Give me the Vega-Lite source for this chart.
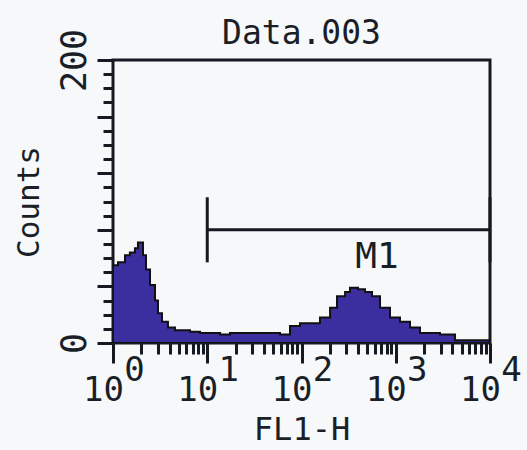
{
  "$schema": "https://vega.github.io/schema/vega-lite/v6.json",
  "width": 377,
  "height": 283,
  "autosize": {"type": "none"},
  "padding": {"left": 113, "top": 60, "right": 37, "bottom": 107},
  "background": "#f6f8fa",
  "config": {
    "view": {"stroke": "#151a22", "strokeWidth": 3},
    "font": "DejaVu Sans Mono",
    "axis": {"tickColor": "#151a22", "tickWidth": 3, "domain": false, "grid": false, "labelColor": "#1a1f27", "titleColor": "#1a1f27", "labelFont": "DejaVu Sans Mono", "titleFont": "DejaVu Sans Mono", "titleFontWeight": "normal"}
  },
  "title": {"text": "Data.003", "fontSize": 33, "fontWeight": "normal", "color": "#1a1f27", "font": "DejaVu Sans Mono", "dy": 27},
  "datasets": {
    "hist": [
      {"fl1": 1.0, "count": 55}, {"fl1": 1.13, "count": 57}, {"fl1": 1.34, "count": 62}, {"fl1": 1.51, "count": 64},
      {"fl1": 1.71, "count": 67}, {"fl1": 1.84, "count": 71}, {"fl1": 1.98, "count": 71}, {"fl1": 2.08, "count": 62},
      {"fl1": 2.24, "count": 52}, {"fl1": 2.47, "count": 41}, {"fl1": 2.79, "count": 30}, {"fl1": 3.0, "count": 21},
      {"fl1": 3.31, "count": 15}, {"fl1": 3.83, "count": 11}, {"fl1": 4.55, "count": 9}, {"fl1": 6.56, "count": 8},
      {"fl1": 8.38, "count": 7}, {"fl1": 13.7, "count": 6}, {"fl1": 17.4, "count": 7}, {"fl1": 36.3, "count": 7},
      {"fl1": 59.1, "count": 6}, {"fl1": 75.5, "count": 12}, {"fl1": 96.4, "count": 14}, {"fl1": 123, "count": 14},
      {"fl1": 157, "count": 18}, {"fl1": 201, "count": 25}, {"fl1": 238, "count": 33}, {"fl1": 290, "count": 36},
      {"fl1": 327, "count": 39}, {"fl1": 398, "count": 38}, {"fl1": 472, "count": 36}, {"fl1": 560, "count": 33},
      {"fl1": 681, "count": 25}, {"fl1": 869, "count": 18}, {"fl1": 1109, "count": 15}, {"fl1": 1416, "count": 11},
      {"fl1": 1808, "count": 7}, {"fl1": 2950, "count": 6}, {"fl1": 4256, "count": 2}, {"fl1": 6137, "count": 2},
      {"fl1": 10000, "count": 2}
    ],
    "marker": [{"name": "M1", "start": 10, "end": 10000, "level": 80, "labelX": 631, "labelY": 61}],
    "ends": [{"pos": 10, "lo": 57, "hi": 103}, {"pos": 10000, "lo": 57, "hi": 103}]
  },
  "layer": [
    {
      "data": {"name": "hist"},
      "mark": {"type": "area", "interpolate": "step-after", "color": "#3b2e9f", "stroke": "#111", "strokeWidth": 2, "clip": true},
      "encoding": {
        "x": {"field": "fl1", "type": "quantitative",
          "scale": {"type": "log", "domain": [1, 10000], "nice": false},
          "axis": {"orient": "bottom", "values": [2,3,4,5,6,7,8,9,20,30,40,50,60,70,80,90,200,300,400,500,600,700,800,900,2000,3000,4000,5000,6000,7000,8000,9000], "labels": false, "tickSize": 11, "title": null}},
        "y": {"field": "count", "type": "quantitative",
          "scale": {"domain": [0, 200], "nice": false},
          "axis": {"orient": "left", "values": [10,20,30,50,60,70,90,100,110,130,140,150,170,180,190], "labels": false, "tickSize": 10, "title": null}}
      }
    },
    {
      "data": {"name": "marker"},
      "mark": {"type": "rule", "color": "#151a22", "strokeWidth": 3},
      "encoding": {
        "x": {"field": "start", "type": "quantitative",
          "axis": {"orient": "bottom", "values": [1, 10, 100, 1000, 10000], "tickSize": 20,
            "labelExpr": "'10'", "labelOffset": -10,
            "labelFontSize": 34, "labelPadding": 10, "labelFlush": false, "labelOverlap": false,
            "title": "FL1-H", "titleFontSize": 32, "titlePadding": 7}},
        "x2": {"field": "end"},
        "y": {"field": "level", "type": "quantitative",
          "axis": {"orient": "left", "values": [0, 40, 80, 120, 160, 200], "tickSize": 16,
            "labelExpr": "datum.value == 0 || datum.value == 200 ? datum.label : ''",
            "labelAngle": -90, "labelFontSize": 35, "labelPadding": 5, "labelFlush": false, "labelOverlap": false,
            "title": "Counts", "titleFontSize": 31, "titlePadding": 12}}
      }
    },
    {
      "data": {"name": "ends"},
      "mark": {"type": "rule", "color": "#151a22", "strokeWidth": 3},
      "encoding": {
        "x": {"field": "pos", "type": "quantitative",
          "axis": {"orient": "bottom", "values": [1, 10, 100, 1000, 10000], "ticks": false, "tickSize": 0,
            "labelExpr": "format(round(log(datum.value) / LN10), 'd')", "labelOffset": 21,
            "labelFontSize": 34, "labelPadding": 10, "labelFlush": false, "labelOverlap": false, "title": null}},
        "y": {"field": "lo", "type": "quantitative", "axis": null},
        "y2": {"field": "hi"}
      }
    },
    {
      "data": {"name": "marker"},
      "mark": {"type": "text", "fontSize": 36, "color": "#1a1f27", "baseline": "middle", "align": "center"},
      "encoding": {
        "x": {"field": "labelX", "type": "quantitative", "axis": null},
        "y": {"field": "labelY", "type": "quantitative", "axis": null},
        "text": {"field": "name"}
      }
    }
  ],
  "resolve": {"axis": {"x": "independent", "y": "independent"}}
}
